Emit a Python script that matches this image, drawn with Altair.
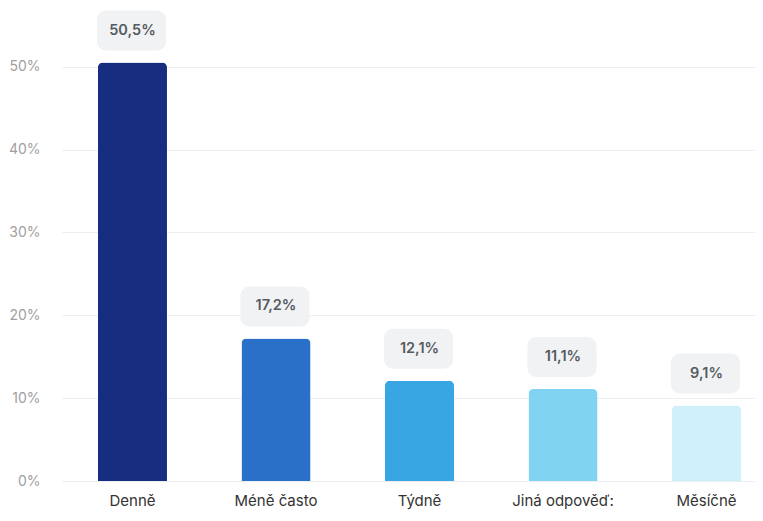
import altair as alt
import pandas as pd

categories = ["Denně", "Méně často", "Týdně", "Jiná odpověď:", "Měsíčně"]
values = [50.5, 17.2, 12.1, 11.1, 9.1]
value_labels = ["50,5%", "17,2%", "12,1%", "11,1%", "9,1%"]
colors = ["#172d7f", "#2a70c8", "#38a6e2", "#80d4f1", "#cdf0fa"]
y_ticks = [0, 10, 20, 30, 40, 50]

df = pd.DataFrame({"cat": categories, "value": values, "label": value_labels})

font = "Inter"

x_enc = alt.X(
    "cat:N",
    sort=categories,
    title=None,
    scale=alt.Scale(paddingInner=0.519, paddingOuter=0.174, align=0.72),
    axis=alt.Axis(
        labelAngle=0, domain=False, ticks=False, labelPadding=12,
        labelFontSize=15, labelColor="#333333", labelFont=font, grid=False,
    ),
)
y_enc = alt.Y(
    "value:Q",
    title=None,
    scale=alt.Scale(domain=[0, 56], nice=False),
    axis=alt.Axis(
        values=y_ticks, labelExpr="datum.value + '%'", domain=False, ticks=False,
        labelPadding=22, labelFontSize=14, labelColor="#a0a0a0", labelFont=font,
        gridColor="#eceef1", gridWidth=1.2,
    ),
)

bars = alt.Chart(df).mark_bar(cornerRadiusTopLeft=5, cornerRadiusTopRight=5).encode(
    x=x_enc,
    y=y_enc,
    color=alt.Color("cat:N", scale=alt.Scale(domain=categories, range=colors), legend=None),
)

boxes = alt.Chart(df).mark_rect(
    yOffset=-12, y2Offset=-52, xOffset=-1, x2Offset=1, cornerRadius=9, color="#f0f2f4"
).encode(
    x=alt.X("cat:N", sort=categories),
    y=alt.Y("value:Q"),
    y2=alt.Y2("value"),
)

texts = alt.Chart(df).mark_text(
    dy=-32, baseline="middle", fontSize=14.5, fontWeight=600, color="#555a60", font=font
).encode(
    x=alt.X("cat:N", sort=categories),
    y=alt.Y("value:Q"),
    text="label:N",
)

chart = alt.layer(bars, boxes, texts).properties(
    width=693, height=464,
    autosize=alt.AutoSizeParams(type="none"),
    padding={"left": 54, "top": 9, "right": 0, "bottom": 32},
).configure_view(stroke=None)

chart.save("out.html", embed_options={"renderer": "svg", "actions": False})
